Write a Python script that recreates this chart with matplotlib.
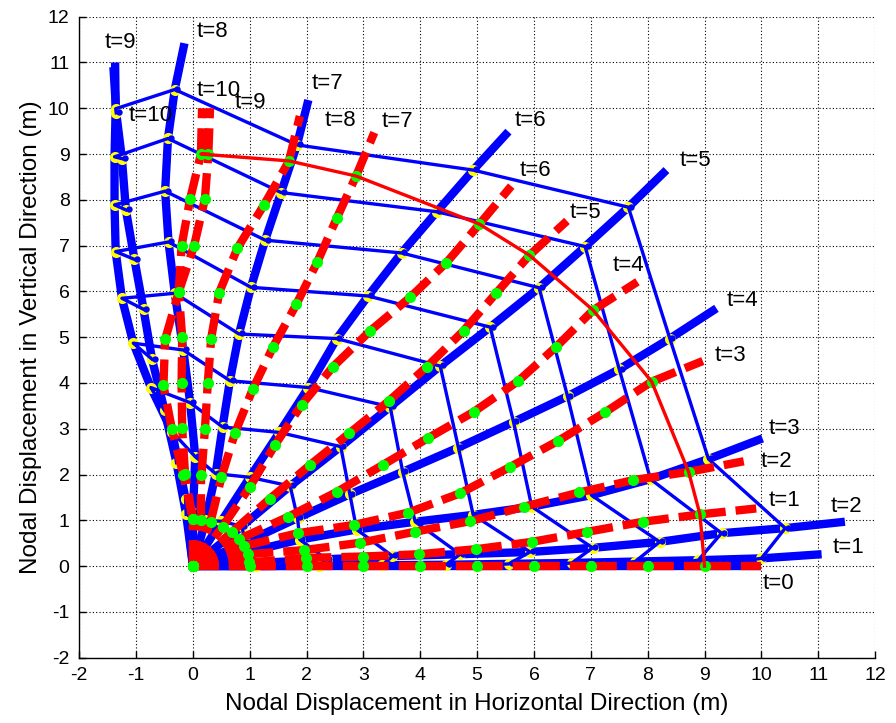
import matplotlib
matplotlib.use('Agg')
import matplotlib.pyplot as plt
import matplotlib.transforms as mtransforms

plt.rcParams['font.family'] = ['Liberation Sans', 'DejaVu Sans']
plt.rcParams['axes.unicode_minus'] = False

# ---------------- data ----------------
times = list(range(11))

# Blue model: node k = 0..9 followed by the free end of the drawn beam
BX0 = [0, 1, 2, 3, 4, 5, 6, 7, 8, 9, 10]
BY0 = [0, 0, 0, 0, 0, 0, 0, 0, 0, 0, 0]
BX1 = [0, 1.11, 2.22, 3.33, 4.45, 5.56, 6.67, 7.78, 8.89, 10.0, 11.06]
BY1 = [0, 0.00, 0.01, 0.02, 0.03, 0.05, 0.07, 0.10, 0.13, 0.17, 0.26]
BX2 = [0, 1.17, 2.35, 3.51, 4.70, 5.93, 7.03, 8.21, 9.30, 10.42, 11.47]
BY2 = [0, 0.07, 0.15, 0.22, 0.26, 0.31, 0.40, 0.53, 0.72, 0.83, 0.97]
BX3 = [0, 0.93, 1.88, 2.88, 3.91, 4.93, 5.96, 7.01, 8.05, 9.07, 10.02]
BY3 = [0, 0.30, 0.58, 0.80, 0.97, 1.12, 1.30, 1.55, 1.90, 2.34, 2.79]
BX4 = [0, 0.92, 1.84, 2.76, 3.69, 4.67, 5.64, 6.59, 7.50, 8.39, 9.21]
BY4 = [0, 0.52, 1.05, 1.57, 2.06, 2.59, 3.15, 3.71, 4.30, 4.97, 5.63]
BX5 = [0, 0.86, 1.71, 2.60, 3.47, 4.35, 5.23, 6.09, 6.90, 7.66, 8.33]
BY5 = [0, 0.87, 1.75, 2.61, 3.48, 4.37, 5.22, 6.08, 6.98, 7.84, 8.65]
BX6 = [0, 0.50, 1.00, 1.52, 2.03, 2.53, 3.08, 3.67, 4.29, 4.93, 5.55]
BY6 = [0, 0.98, 1.94, 2.92, 3.90, 4.97, 5.90, 6.84, 7.74, 8.65, 9.49]
BX7 = [0, 0.22, 0.40, 0.52, 0.65, 0.81, 1.02, 1.27, 1.55, 1.83, 2.03]
BY7 = [0, 1.00, 2.02, 3.04, 4.05, 5.07, 6.09, 7.12, 8.16, 9.20, 10.18]
BX8 = [0, 0.00, 0.04, -0.05, -0.17, -0.32, -0.43, -0.49, -0.44, -0.32, -0.15]
BY8 = [0, 1.17, 2.39, 3.57, 4.72, 5.96, 7.08, 8.19, 9.34, 10.41, 11.42]
BX9 = [0, -0.13, -0.37, -0.74, -1.05, -1.25, -1.36, -1.38, -1.38, -1.36, -1.37]
BY9 = [0, 1.47, 2.94, 3.90, 4.87, 5.85, 6.87, 7.89, 8.94, 9.99, 11.00]
BX10 = [0, -0.12, -0.29, -0.50, -0.72, -0.87, -1.03, -1.18, -1.25, -1.35, -1.40]
BY10 = [0, 1.13, 2.26, 3.40, 4.52, 5.61, 6.70, 7.78, 8.90, 9.90, 10.90]

# Red model: node k = 0..9 followed by the free end of the drawn beam
RX0 = [0, 1, 2, 3, 4, 5, 6, 7, 8, 9, 10]
RY0 = [0, 0, 0, 0, 0, 0, 0, 0, 0, 0, 0]
RX1 = [0, 0.99, 1.98, 2.99, 3.98, 4.98, 5.96, 6.94, 7.92, 8.92, 9.91]
RY1 = [0, 0.08, 0.18, 0.21, 0.26, 0.37, 0.53, 0.75, 0.97, 1.13, 1.26]
RX2 = [0, 0.96, 1.95, 2.94, 3.90, 4.87, 5.83, 6.80, 7.75, 8.72, 9.69]
RY2 = [0, 0.26, 0.35, 0.51, 0.75, 0.98, 1.30, 1.61, 1.88, 2.06, 2.29]
RX3 = [0, 0.90, 1.85, 2.83, 3.79, 4.70, 5.57, 6.43, 7.25, 8.07, 8.97]
RY3 = [0, 0.44, 0.72, 0.90, 1.17, 1.59, 2.16, 2.74, 3.36, 4.03, 4.48]
RX4 = [0, 0.81, 1.68, 2.53, 3.34, 4.14, 4.94, 5.72, 6.39, 7.04, 7.82]
RY4 = [0, 0.59, 1.08, 1.62, 2.21, 2.80, 3.37, 4.04, 4.79, 5.59, 6.21]
RX5 = [0, 0.68, 1.35, 2.06, 2.75, 3.45, 4.12, 4.76, 5.34, 5.92, 6.58]
RY5 = [0, 0.74, 1.47, 2.21, 2.90, 3.61, 4.36, 5.14, 5.97, 6.79, 7.54]
RX6 = [0, 0.52, 1.00, 1.44, 1.91, 2.46, 3.12, 3.82, 4.46, 5.04, 5.60]
RY6 = [0, 0.86, 1.73, 2.64, 3.52, 4.35, 5.14, 5.87, 6.63, 7.47, 8.30]
RX7 = [0, 0.31, 0.50, 0.74, 1.05, 1.41, 1.82, 2.19, 2.53, 2.87, 3.19]
RY7 = [0, 0.97, 1.94, 2.91, 3.86, 4.79, 5.72, 6.65, 7.60, 8.52, 9.47]
RX8 = [0, 0.15, 0.15, 0.21, 0.26, 0.32, 0.46, 0.78, 1.25, 1.69, 1.88]
RY8 = [0, 1.00, 2.00, 2.99, 3.99, 4.97, 5.97, 6.94, 7.89, 8.85, 9.83]
RX9 = [0, 0.00, -0.14, -0.19, -0.20, -0.19, -0.25, -0.20, -0.05, 0.14, 0.16]
RY9 = [0, 1.02, 2.01, 3.01, 4.00, 5.00, 5.99, 7.00, 8.02, 9.00, 10.00]
RX10 = [0, 0.00, -0.17, -0.37, -0.52, -0.49, -0.25, 0.02, 0.21, 0.27, 0.30]
RY10 = [0, 1.02, 2.00, 2.99, 3.95, 4.95, 5.99, 7.00, 8.02, 9.00, 10.00]

# time labels
blue_label_t = [0, 1, 2, 3, 4, 5, 6, 7, 8, 9, 10]
blue_label_x = [10.03, 11.26, 11.21, 10.12, 9.39, 8.57, 5.66, 2.09, 0.07, -1.55, -1.14]
blue_label_y = [-0.37, 0.41, 1.30, 3.01, 5.80, 8.87, 9.73, 10.55, 11.67, 11.43, 9.84]
red_label_t = [1, 2, 3, 4, 5, 6, 7, 8, 9, 10]
red_label_x = [10.12, 9.98, 9.18, 7.39, 6.63, 5.75, 3.32, 2.32, 0.74, 0.07]
red_label_y = [1.43, 2.28, 4.61, 6.56, 7.72, 8.64, 9.71, 9.74, 10.12, 10.39]

x_ticks = [-2, -1, 0, 1, 2, 3, 4, 5, 6, 7, 8, 9, 10, 11, 12]
y_ticks = [-2, -1, 0, 1, 2, 3, 4, 5, 6, 7, 8, 9, 10, 11, 12]
x_label = 'Nodal Displacement in Horizontal Direction (m)'
y_label = 'Nodal Displacement in Vertical Direction (m)'

# ---------------- plotting ----------------
BX = [BX0, BX1, BX2, BX3, BX4, BX5, BX6, BX7, BX8, BX9, BX10]
BY = [BY0, BY1, BY2, BY3, BY4, BY5, BY6, BY7, BY8, BY9, BY10]
RX = [RX0, RX1, RX2, RX3, RX4, RX5, RX6, RX7, RX8, RX9, RX10]
RY = [RY0, RY1, RY2, RY3, RY4, RY5, RY6, RY7, RY8, RY9, RY10]

fig = plt.figure(figsize=(8.96, 7.23), dpi=100)
ax = fig.add_axes([0.0885, 0.0903, 0.8881, 0.8866])

BLUE = (0, 0, 1)
RED = (1, 0, 0)
YEL = (1, 1, 0)
GRN = (0, 1, 0)

LW_THICK = 6.0
shift = mtransforms.ScaledTranslation(0.026, 0.006, fig.dpi_scale_trans)

for t in times:
    bx, by = BX[t], BY[t]
    ax.plot(bx, by, color=BLUE, lw=LW_THICK, solid_capstyle='butt', zorder=3)
    ax.plot(bx[:10], by[:10], 'o', ms=8, mfc=YEL, mec=YEL, mew=0, zorder=4)
    if t != 9:
        ax.plot(bx[:10], by[:10], 'o', ms=4.6, mfc=BLUE, mec=BLUE, mew=0,
                zorder=4.5, transform=ax.transData + shift)

# thin blue node trajectories
for k in range(1, 10):
    ax.plot([BX[t][k] for t in times], [BY[t][k] for t in times],
            color=BLUE, lw=2.4, zorder=5)

# red dashed beams (dash pattern restarts at every node)
for t in times:
    rx, ry = RX[t], RY[t]
    for k in range(len(rx) - 1):
        ax.plot(rx[k:k + 2], ry[k:k + 2], color=RED, lw=LW_THICK,
                linestyle=(0, (3.1, 1.2)), dash_capstyle='butt', zorder=6)
    ax.plot(rx[:10], ry[:10], 'o', ms=8, mfc=GRN, mec=GRN, mew=0, zorder=7)

# red tip trajectory
ax.plot([RX[t][9] for t in times], [RY[t][9] for t in times],
        color=RED, lw=2.4, zorder=8)

for t, x, y in zip(blue_label_t, blue_label_x, blue_label_y):
    ax.text(x, y, 't=%d' % t, fontsize=16, ha='left', va='center', zorder=9)
for t, x, y in zip(red_label_t, red_label_x, red_label_y):
    ax.text(x, y, 't=%d' % t, fontsize=16, ha='left', va='center', zorder=9)

ax.set_xlim(-2, 12)
ax.set_ylim(-2, 12)
ax.set_xticks(x_ticks)
ax.set_yticks(y_ticks)
ax.grid(True, color='black', linestyle=(0, (1, 2)), linewidth=0.8, zorder=0)
ax.set_axisbelow(True)
for s in ['top', 'right']:
    ax.spines[s].set_visible(False)
for s in ['left', 'bottom']:
    ax.spines[s].set_linewidth(1.0)
ax.tick_params(direction='in', length=5, width=1.0, labelsize=14, pad=7)
ax.set_xlabel(x_label, fontsize=17.5, labelpad=6)
ax.set_ylabel(y_label, fontsize=17.5, labelpad=4)

fig.savefig('out.png', dpi=100)
